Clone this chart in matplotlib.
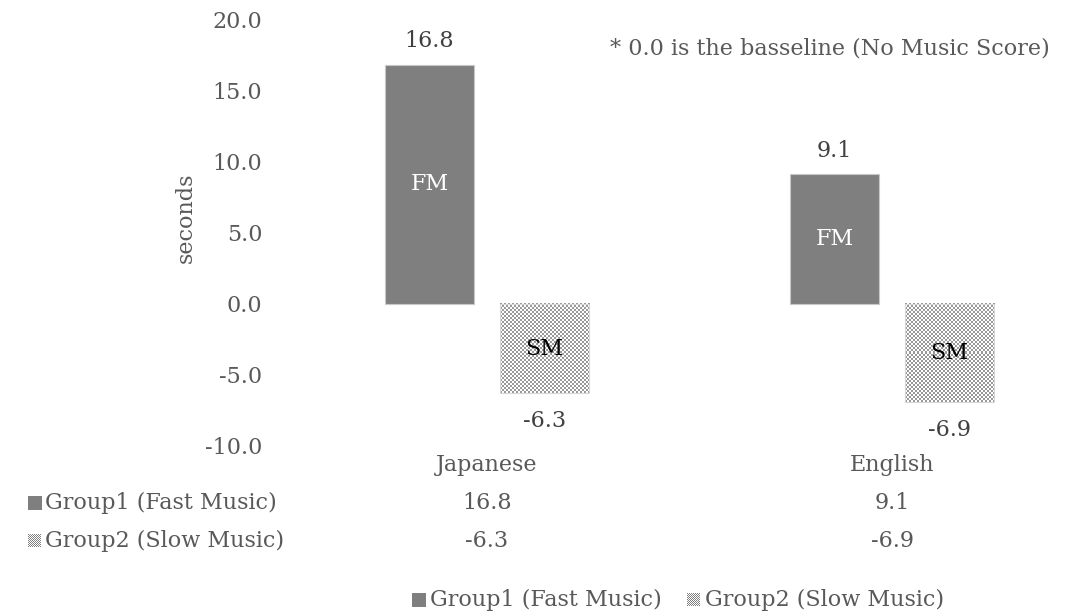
import matplotlib.pyplot as plt
import matplotlib.transforms as mtransforms
import numpy as np

plt.rcParams['font.family'] = ['DejaVu Serif']

categories = ['Japanese', 'English']
fast_music = [16.8, 9.1]
slow_music = [-6.3, -6.9]
series_names = ['Group1 (Fast Music)', 'Group2 (Slow Music)']
bar_tags = ['FM', 'SM']
yticks = [-10.0, -5.0, 0.0, 5.0, 10.0, 15.0, 20.0]
note = '* 0.0 is the basseline (No Music Score)'

W, H = 1089, 614
GREY = '#7f7f7f'
TXT = '#595959'
FS = 16


def checker(rows, cols, dark=0.56):
    # grey/white checkerboard used as the fill for the slow-music series
    cells = np.indices((rows, cols)).sum(axis=0) % 2
    rgb = np.where(cells[..., None] == 1, 1.0, dark)
    return np.repeat(rgb, 3, axis=2)


fig = plt.figure(figsize=(W / 100, H / 100), dpi=100)
ax = fig.add_axes([284.5 / W, (H - 446) / H, (W - 284.5) / W, 427 / H])

x = np.arange(len(categories))
width = 0.222
off = 0.142

fm = ax.bar(x - off, fast_music, width, color=GREY, edgecolor='#c8c8c8',
            linewidth=0.8, zorder=2)
sm = ax.bar(x + off, slow_music, width, facecolor='none', edgecolor='#d8d8d8',
            linewidth=0.8, zorder=2)

xlim = (-0.5, -0.5 + (W - 284.5) / 405)
ylim = (-10, 20)
ax.set_xlim(*xlim)
ax.set_ylim(*ylim)

# fill the slow-music bars with a 2px checkerboard
px_x = ax.get_window_extent().width / (xlim[1] - xlim[0])
px_y = ax.get_window_extent().height / (ylim[1] - ylim[0])
for rect in sm:
    x0, w = rect.get_x(), rect.get_width()
    y0, y1 = sorted([rect.get_y(), rect.get_y() + rect.get_height()])
    cols = max(1, int(round(w * px_x / 2)))
    rows = max(1, int(round((y1 - y0) * px_y / 2)))
    ax.imshow(checker(rows, cols, dark=0.6), extent=[x0, x0 + w, y0, y1],
              interpolation='nearest', aspect='auto', zorder=1)
ax.set_xlim(*xlim)
ax.set_ylim(*ylim)

ax.set_yticks(yticks)
ax.set_yticklabels([f'{v:.1f}' for v in yticks])
ax.tick_params(axis='y', length=0, pad=16, labelsize=FS, labelcolor=TXT)
ax.set_xticks([])
for s in ax.spines.values():
    s.set_visible(False)

# value labels and in-bar tags
for rect, v in zip(fm, fast_music):
    cx = rect.get_x() + rect.get_width() / 2
    ax.annotate(f'{v:.1f}', (cx, v), xytext=(0, 17), textcoords='offset points',
                ha='center', va='center', fontsize=FS, color='#404040')
    ax.text(cx, v / 2, bar_tags[0], ha='center', va='center', fontsize=FS,
            color='white', zorder=3)
for rect, v in zip(sm, slow_music):
    cx = rect.get_x() + rect.get_width() / 2
    ax.annotate(f'{v:.1f}', (cx, v), xytext=(0, -20), textcoords='offset points',
                ha='center', va='center', fontsize=FS, color='#404040')
    ax.text(cx, v / 2, bar_tags[1], ha='center', va='center', fontsize=FS,
            color='black', zorder=3)

fig.text(186 / W, 1 - 218 / H, 'seconds', rotation=90, ha='center',
         va='center', fontsize=FS, color=TXT)
fig.text(610 / W, 1 - 49 / H, note, ha='left', va='center', fontsize=FS,
         color=TXT)

# data table under the plot
tr = mtransforms.blended_transform_factory(ax.transData, fig.transFigure)
rows_y = [465, 503, 541]
for i, cat in enumerate(categories):
    fig.text(x[i], 1 - rows_y[0] / H, cat, transform=tr, ha='center',
             va='center', fontsize=FS, color=TXT)
    fig.text(x[i], 1 - rows_y[1] / H, f'{fast_music[i]:.1f}', transform=tr,
             ha='center', va='center', fontsize=FS, color=TXT)
    fig.text(x[i], 1 - rows_y[2] / H, f'{slow_music[i]:.1f}', transform=tr,
             ha='center', va='center', fontsize=FS, color=TXT)

solid_key = np.full((14, 14, 3), 0.5)
check_key = checker(13, 13, dark=0.5)
for name, yy, key in zip(series_names, rows_y[1:], [solid_key, check_key]):
    fig.figimage(key, xo=28, yo=H - yy - key.shape[0] // 2, zorder=3)
    fig.text(45 / W, 1 - yy / H, name, ha='left', va='center', fontsize=FS,
             color=TXT)

# legend along the bottom
leg_y = 600
for name, kx, key in zip(series_names, [412, 687], [solid_key, check_key]):
    fig.figimage(key, xo=kx, yo=H - leg_y - key.shape[0] // 2, zorder=3)
    fig.text((kx + 18) / W, 1 - leg_y / H, name, ha='left', va='center',
             fontsize=FS, color=TXT)

fig.savefig('out.png', dpi=100)
